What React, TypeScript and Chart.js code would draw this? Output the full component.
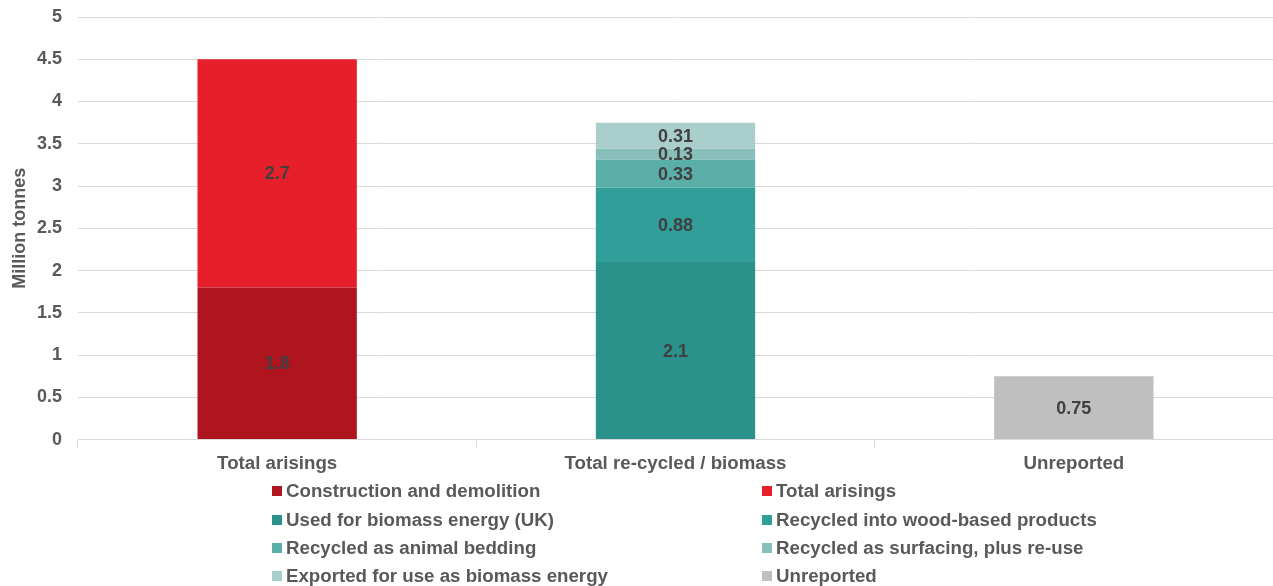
import React, { useEffect, useRef } from "react";
import { Chart, registerables } from "chart.js";

Chart.register(...registerables);

const categories = ["Total arisings", "Total re-cycled / biomass", "Unreported"];
const seriesNames = [
  "Construction and demolition",
  "Total arisings",
  "Used for biomass energy (UK)",
  "Recycled into wood-based products",
  "Recycled as animal bedding",
  "Recycled as surfacing, plus re-use",
  "Exported for use as biomass energy",
  "Unreported",
];
const constructionValues = [1.8, null, null];
const totalArisingsValues = [2.7, null, null];
const biomassUkValues = [null, 2.1, null];
const woodProductsValues = [null, 0.88, null];
const animalBeddingValues = [null, 0.33, null];
const surfacingValues = [null, 0.13, null];
const exportedValues = [null, 0.31, null];
const unreportedValues = [null, null, 0.75];
const seriesColors = [
  "#AE151E",
  "#E61F2A",
  "#2B918B",
  "#319E9A",
  "#5AAFA8",
  "#88BFBB",
  "#AACECC",
  "#BFBFBF",
];
const yTicks = [0, 0.5, 1, 1.5, 2, 2.5, 3, 3.5, 4, 4.5, 5];

const FONT = "'Liberation Sans', Arial, sans-serif";

const dataLabelPlugin = {
  id: "dataLabels",
  afterDatasetsDraw(chart: any) {
    const ctx = chart.ctx;
    ctx.save();
    ctx.font = `bold 18px ${FONT}`;
    ctx.fillStyle = "#404040";
    ctx.textAlign = "center";
    ctx.textBaseline = "middle";
    chart.data.datasets.forEach((ds: any, di: number) => {
      const meta = chart.getDatasetMeta(di);
      meta.data.forEach((el: any, i: number) => {
        const v = ds.data[i];
        if (v === null || v === undefined) return;
        const y = (el.y + el.base) / 2;
        ctx.fillText(String(v), el.x, y + 1);
      });
    });
    ctx.restore();
  },
};

export default function App() {
  const ref = useRef<HTMLCanvasElement>(null);
  useEffect(() => {
    document.body.style.margin = "0";
    const all = [
      constructionValues,
      totalArisingsValues,
      biomassUkValues,
      woodProductsValues,
      animalBeddingValues,
      surfacingValues,
      exportedValues,
      unreportedValues,
    ];
    const chart = new Chart(ref.current!, {
      type: "bar",
      data: {
        labels: categories,
        datasets: all.map((d, i) => ({
          label: seriesNames[i],
          data: d as any,
          backgroundColor: seriesColors[i],
          borderWidth: 0,
          barPercentage: 0.4,
          categoryPercentage: 1,
          skipNull: true,
        })),
      },
      options: {
        responsive: false,
        animation: false,
        devicePixelRatio: 1,
        layout: { padding: { top: 17, right: 0, bottom: 106, left: 9 } },
        plugins: {
          legend: { display: false },
          tooltip: { enabled: false },
        },
        scales: {
          x: {
            stacked: true,
            offset: true,
            grid: {
              offset: true,
              drawOnChartArea: false,
              drawTicks: true,
              tickLength: 8,
              color: "#D9D9D9",
            },
            border: { display: true, color: "#D9D9D9" },
            ticks: {
              color: "#595959",
              font: { family: FONT, size: 18.7, weight: "bold" },
              padding: 5,
            },
          },
          y: {
            stacked: true,
            min: 0,
            max: 5,
            afterBuildTicks: (axis: any) => {
              axis.ticks = yTicks.map((v) => ({ value: v }));
            },
            afterFit: (axis: any) => {
              axis.paddingTop = 0;
              axis.paddingBottom = 0;
              axis.width = 69;
            },
            grid: { color: "#D9D9D9", drawTicks: false },
            border: { display: false },
            ticks: {
              color: "#595959",
              font: { family: FONT, size: 18, weight: "bold" },
              padding: 16,
              callback: (v: any) => String(v),
            },
            title: {
              display: true,
              text: "Million tonnes",
              color: "#595959",
              font: { family: FONT, size: 18, weight: "bold" },
              padding: { top: 0, bottom: 5 },
            },
          },
        },
      },
      plugins: [dataLabelPlugin],
    });
    return () => chart.destroy();
  }, []);

  const rowsY = [491, 520, 548, 576];
  const colX = [272, 762];

  return (
    <div style={{ position: "absolute", left: 0, top: 0, width: 1273, height: 586, background: "#fff", overflow: "hidden" }}>
      <canvas ref={ref} width={1273} height={586} style={{ display: "block" }} />
      {seriesNames.map((name, i) => {
        const row = Math.floor(i / 2);
        const col = i % 2;
        return (
          <div
            key={name}
            style={{
              position: "absolute",
              left: colX[col],
              top: rowsY[row] - 11,
              height: 22,
              display: "flex",
              alignItems: "center",
              fontFamily: FONT,
              fontWeight: "bold",
              fontSize: 18.7,
              color: "#595959",
              whiteSpace: "nowrap",
            }}
          >
            <span style={{ display: "inline-block", width: 10, height: 10, background: seriesColors[i], marginRight: 4 }} />
            <span>{name}</span>
          </div>
        );
      })}
    </div>
  );
}
